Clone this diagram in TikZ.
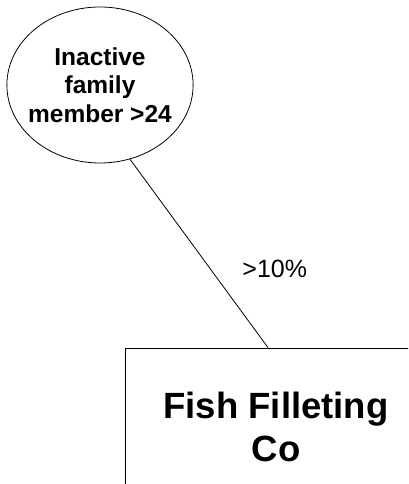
\documentclass[tikz,border=0pt]{standalone}
\usepackage{fontspec}
\setmainfont{Liberation Sans}
\usetikzlibrary{positioning,shapes.geometric}

\begin{document}
\begin{tikzpicture}[
  x=1pt, y=1pt,
  holder/.style={draw, thick, ellipse, align=center, inner xsep=-6pt, inner ysep=0pt,
                 minimum width=184pt, minimum height=156pt,
                 font=\fontsize{24.5}{28.5}\selectfont\bfseries},
  company/.style={draw, thick, rectangle, align=center, inner sep=0pt,
                  minimum width=302pt, minimum height=158pt,
                  font=\fontsize{36.5}{43}\selectfont\bfseries},
  share/.style={inner sep=0pt, font=\fontsize{25}{28}\selectfont}
]
  \useasboundingbox (0,0) rectangle (408,484);
  \clip (0,0) rectangle (408,484);
  \node[holder] (inactive) at (100,399) {Inactive\\family\\member >24};
  \node[company] (fish) at (276,57) {Fish Filleting\\Co};
  \draw[thick] (inactive.-68) -- node[share, pos=0.58, right=32pt] (pct) {>10\%} ([xshift=-8pt]fish.north);
\end{tikzpicture}
\end{document}
